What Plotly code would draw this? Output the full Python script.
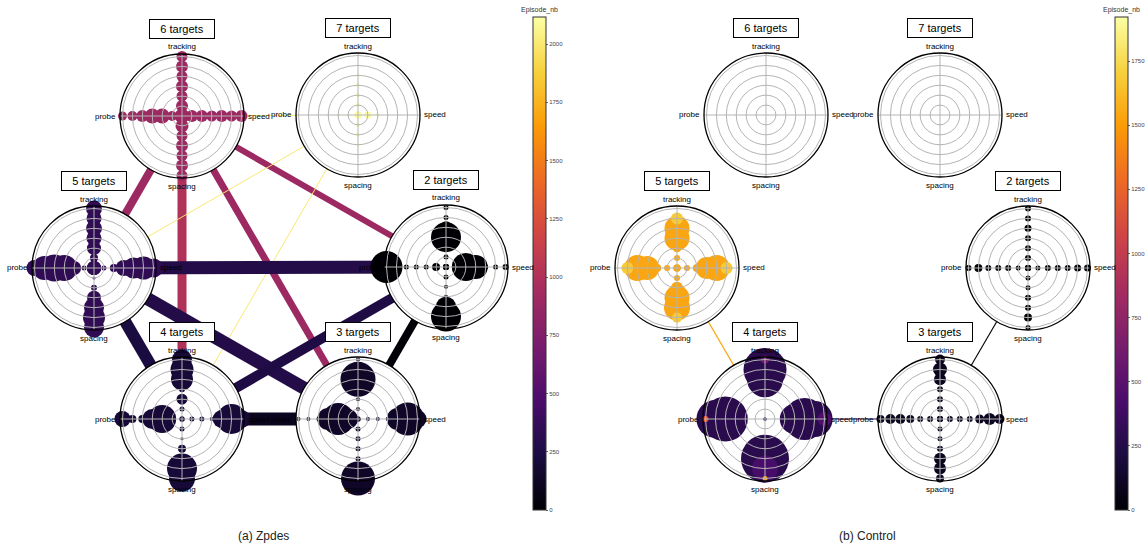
import plotly.graph_objects as go
from plotly.colors import sample_colorscale

W, H = 1148, 547
DIMENSIONS = ["tracking", "speed", "spacing", "probe"]
LEVELS = [0, 1, 2, 3, 4, 5, 6]
TARGETS = [2, 3, 4, 5, 6, 7]

# ---------------- (a) Zpdes ----------------
ZP_EPISODE_MAX = 2116
ZP_NODE_EPISODE = [0, 140, 200, 340, 900, 2110]          # per TARGETS
# marker sizes per level (rows: tracking, speed, spacing, probe)
ZP_SIZE_2 = [[6, 5, 5, 30, 12, 5, 5],
             [6, 6, 28, 24, 5, 5, 6],
             [6, 5, 4, 4, 20, 30, 8],
             [6, 8, 5, 5, 5, 5, 32]]
ZP_SIZE_3 = [[5, 4, 4, 5, 35, 5, 4],
             [5, 4, 4, 4, 22, 33, 18],
             [5, 5, 5, 5, 5, 10, 34],
             [5, 20, 32, 22, 4, 4, 4]]
ZP_SIZE_4 = [[5, 5, 11, 6, 22, 23, 20],
             [5, 5, 5, 4, 18, 30, 18],
             [5, 5, 3, 8, 8, 30, 26],
             [5, 5, 28, 20, 8, 8, 16]]
ZP_SIZE_5 = [[14, 8, 14, 15, 16, 15, 16],
             [14, 5, 8, 16, 21, 23, 19],
             [14, 3, 6, 14, 20, 22, 20],
             [14, 5, 14, 26, 27, 24, 16]]
ZP_SIZE_6 = [[14, 12, 11, 12, 11, 12, 11],
             [14, 12, 12, 11, 12, 11, 12],
             [14, 13, 11, 12, 11, 12, 11],
             [14, 10, 15, 15, 12, 10, 9]]
ZP_SIZE_7 = [[7, 4, 4, 4, 3, 0, 0],
             [7, 7, 3, 2, 0, 0, 0],
             [7, 4, 4, 3, 0, 0, 0],
             [7, 3, 3, 3, 0, 0, 0]]
ZP_EDGE_FROM = [6, 6, 6, 6, 6, 7, 7, 5, 5, 5, 4, 4, 3]
ZP_EDGE_TO = [5, 4, 3, 2, 7, 5, 4, 2, 4, 3, 3, 2, 2]
ZP_EDGE_EPISODE = [900, 1000, 900, 900, 2000, 2000, 2000, 280, 230, 280, 100, 260, 10]
ZP_EDGE_WEIGHT = [8, 9, 7, 6, 1, 1, 1, 13, 12, 13, 13, 10, 8]

# ---------------- (b) Control ----------------
CT_EPISODE_MAX = 1922
CT_NODE_EPISODE = [0, 90, 280, 1540, 0, 0]
CT_SIZE_2 = [[6, 6, 6, 6, 7, 6, 6],
             [6, 5, 6, 6, 6, 7, 7],
             [6, 5, 5, 6, 6, 8, 5],
             [6, 5, 6, 6, 6, 8, 6]]
CT_SIZE_3 = [[6, 6, 6, 6, 12, 14, 10],
             [6, 6, 6, 6, 9, 12, 10],
             [6, 5, 5, 6, 12, 12, 8],
             [6, 6, 6, 8, 10, 10, 8]]
CT_SIZE_4 = [[3, 0, 0, 0, 36, 43, 8],
             [3, 0, 0, 30, 42, 36, 14],
             [3, 0, 0, 20, 48, 26, 5],
             [3, 0, 0, 20, 45, 38, 6]]
CT_COLOR_4 = [[280, 280, 280, 280, 280, 280, 600],
              [280, 280, 280, 280, 280, 280, 450],
              [280, 280, 280, 280, 280, 420, 1550],
              [280, 280, 280, 280, 280, 280, 1200]]
CT_SIZE_5 = [[7, 6, 8, 25, 25, 12, 0],
             [7, 6, 8, 22, 26, 12, 0],
             [7, 6, 12, 25, 26, 10, 0],
             [7, 6, 8, 24, 26, 12, 0]]
CT_COLOR_5 = [[1540, 1540, 1540, 1540, 1540, 1680, 1540],
              [1540, 1540, 1540, 1540, 1540, 1680, 1540],
              [1540, 1540, 1540, 1540, 1540, 1680, 1540],
              [1540, 1540, 1540, 1540, 1540, 1680, 1540]]
CT_SIZE_6 = None
CT_SIZE_7 = None
CT_EDGE_FROM = [5, 4, 3]
CT_EDGE_TO = [4, 3, 2]
CT_EDGE_EPISODE = [1540, 320, 20]
CT_EDGE_WEIGHT = [1.3, 1.1, 1.1]

# ---------------- layout / style ----------------
ZP_POS = {6: (182, 116), 7: (358, 115), 5: (94, 268), 2: (446, 267), 4: (182, 419), 3: (358, 419)}
CT_POS = {6: (766, 115), 7: (940, 115), 5: (677, 268), 2: (1028, 268), 4: (765, 419), 3: (940, 419)}
R_PX = 62
RMAX = 6.25
GRID = "#b4b4b4"
FONT = "Liberation Sans, Arial, sans-serif"
# label placement around each circle: (dx, dy, xanchor)
LABEL_OFFSETS = {"tracking": (0, -69, "center"), "speed": (64, 0, "left"),
                 "spacing": (0, 70, "center"), "probe": (-64, 0, "right")}

fig = go.Figure()
layout_updates = {}
polar_count = [0]


def next_polar():
    polar_count[0] += 1
    return "polar" if polar_count[0] == 1 else f"polar{polar_count[0]}"


def edge_color(value, vmax):
    return sample_colorscale("Inferno", [min(max(value / vmax, 0), 1)])[0]


def add_edges(pos, e_from, e_to, e_ep, e_w, vmax):
    for a, b, ep, w in zip(e_from, e_to, e_ep, e_w):
        (x1, y1), (x2, y2) = pos[a], pos[b]
        fig.add_trace(go.Scatter(x=[x1, x2], y=[y1, y2], mode="lines",
                                 line=dict(color=edge_color(ep, vmax), width=w),
                                 hoverinfo="skip", showlegend=False,
                                 xaxis="x", yaxis="y"))


def add_node(center, sizes, colors, base_color, caxis, label):
    cx, cy = center
    dom = dict(x=[(cx - R_PX) / W, (cx + R_PX) / W],
               y=[1 - (cy + R_PX) / H, 1 - (cy - R_PX) / H])
    ang_common = dict(type="category", categoryarray=DIMENSIONS, rotation=90,
                      direction="clockwise")
    # data polar (white background + markers)
    p1 = next_polar()
    layout_updates[p1] = dict(
        domain=dom, bgcolor="white",
        radialaxis=dict(range=[0, RMAX], visible=False),
        angularaxis=dict(**ang_common, visible=False))
    r, th, sz, col = [], [], [], []
    if sizes is not None:
        for di, dim in enumerate(DIMENSIONS):
            for li, lev in enumerate(LEVELS):
                s = sizes[di][li]
                if s <= 0:
                    continue
                r.append(lev)
                th.append(dim)
                sz.append(s)
                col.append(colors[di][li] if colors is not None else base_color)
    fig.add_trace(go.Scatterpolar(r=r, theta=th, mode="markers", subplot=p1,
                                  marker=dict(size=sz, color=col, coloraxis=caxis,
                                              line=dict(width=0), opacity=1),
                                  hoverinfo="skip", showlegend=False))
    # grid polar on top
    p2 = next_polar()
    layout_updates[p2] = dict(
        domain=dom, bgcolor="rgba(0,0,0,0)",
        radialaxis=dict(range=[0, RMAX], tickvals=[1, 2, 3, 4, 5, 6],
                        showticklabels=False, ticks="", showline=False,
                        gridcolor=GRID, gridwidth=1),
        angularaxis=dict(**ang_common, showline=True, linecolor="black",
                         linewidth=1.3, gridcolor=GRID, gridwidth=1, ticks="",
                         showticklabels=False))
    fig.add_trace(go.Scatterpolar(r=[0, 0, 0, 0], theta=DIMENSIONS, mode="markers",
                                  subplot=p2, marker=dict(size=1, opacity=0),
                                  hoverinfo="skip", showlegend=False))
    # axis names
    for dim in DIMENSIONS:
        dx, dy, xa = LABEL_OFFSETS[dim]
        fig.add_annotation(x=(cx + dx) / W, y=1 - (cy + dy) / H, xref="paper",
                           yref="paper", text=dim, showarrow=False, xanchor=xa,
                           yanchor="middle",
                           font=dict(size=8, color="black", family=FONT))
    # title box
    fig.add_annotation(x=cx / W, y=1 - (cy - 87) / H, xref="paper", yref="paper",
                       text=label, showarrow=False, xanchor="center",
                       yanchor="middle",
                       font=dict(size=11, color="black", family=FONT),
                       bgcolor="white", bordercolor="black", borderwidth=1,
                       borderpad=3, width=58, height=12)


add_edges(ZP_POS, ZP_EDGE_FROM, ZP_EDGE_TO, ZP_EDGE_EPISODE, ZP_EDGE_WEIGHT, ZP_EPISODE_MAX)
add_edges(CT_POS, CT_EDGE_FROM, CT_EDGE_TO, CT_EDGE_EPISODE, CT_EDGE_WEIGHT, CT_EPISODE_MAX)

ZP_SIZES = [ZP_SIZE_2, ZP_SIZE_3, ZP_SIZE_4, ZP_SIZE_5, ZP_SIZE_6, ZP_SIZE_7]
CT_SIZES = [CT_SIZE_2, CT_SIZE_3, CT_SIZE_4, CT_SIZE_5, CT_SIZE_6, CT_SIZE_7]
CT_COLORS = [None, None, CT_COLOR_4, CT_COLOR_5, None, None]

for t, sizes, ep in zip(TARGETS, ZP_SIZES, ZP_NODE_EPISODE):
    add_node(ZP_POS[t], sizes, None, ep, "coloraxis", f"{t} targets")
for t, sizes, cols, ep in zip(TARGETS, CT_SIZES, CT_COLORS, CT_NODE_EPISODE):
    add_node(CT_POS[t], sizes, cols, ep, "coloraxis2", f"{t} targets")


def cbar(x_px, vmax_tick):
    return dict(x=x_px / W, xanchor="left", xref="paper", y=1 - 263.5 / H,
                yanchor="middle", len=493, lenmode="pixels", thickness=13,
                thicknessmode="pixels", xpad=0, ypad=0, outlinewidth=1,
                outlinecolor="#333333", ticks="outside", ticklen=2,
                tickcolor="#666666",
                tickfont=dict(size=6, color="#444444", family=FONT),
                tickvals=list(range(0, vmax_tick + 1, 250)))


fig.update_layout(
    width=W, height=H, margin=dict(l=0, r=0, t=0, b=0, autoexpand=False),
    paper_bgcolor="white", plot_bgcolor="rgba(0,0,0,0)",
    font=dict(family=FONT),
    xaxis=dict(range=[0, W], visible=False, domain=[0, 1], fixedrange=True),
    yaxis=dict(range=[H, 0], visible=False, domain=[0, 1], fixedrange=True),
    coloraxis=dict(colorscale="Inferno", cmin=0, cmax=ZP_EPISODE_MAX,
                   colorbar=cbar(533, 2000)),
    coloraxis2=dict(colorscale="Inferno", cmin=0, cmax=CT_EPISODE_MAX,
                    colorbar=cbar(1115, 1750)),
    showlegend=False,
    **layout_updates,
)

for x_px, txt in [(539.5, "Episode_nb"), (1121.5, "Episode_nb")]:
    fig.add_annotation(x=x_px / W, y=1 - 10 / H, xref="paper", yref="paper",
                       text=txt, showarrow=False, xanchor="center",
                       yanchor="middle",
                       font=dict(size=7, color="#333333", family=FONT))
for x_px, txt in [(263, "(a) Zpdes"), (867, "(b) Control")]:
    fig.add_annotation(x=x_px / W, y=1 - 536 / H, xref="paper", yref="paper",
                       text=txt, showarrow=False, xanchor="center",
                       yanchor="middle",
                       font=dict(size=12, color="#222222", family=FONT))

fig.write_html("out.html", config={"displayModeBar": False},
               post_script="document.body.style.margin='0';"
                           "document.body.style.overflow='hidden';")
